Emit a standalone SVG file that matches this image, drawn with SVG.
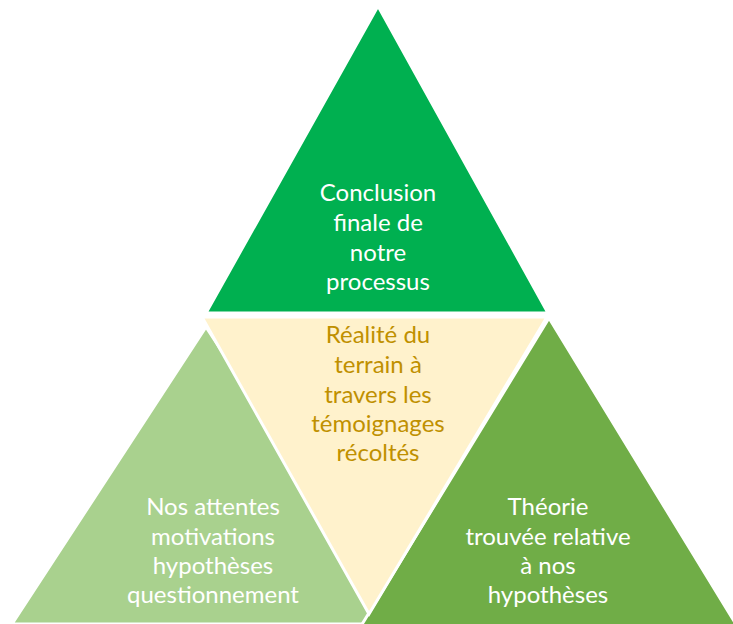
<svg xmlns="http://www.w3.org/2000/svg" width="733" height="624" viewBox="0 0 733 624">
<style>
.tri{stroke:#FFFFFF;stroke-width:3;stroke-linejoin:miter}
.t{font-family:Lato,"Liberation Sans",sans-serif;font-size:24px;text-anchor:middle}
.w{fill:#FFFFFF}
.g{fill:#BF9000}
</style>
<rect width="733" height="624" fill="#FFFFFF"/>
<g id="left">
<polygon class="tri" points="206,327 12,624 400,624" fill="#A9D18E"/>
<text class="t w" x="213" y="515">Nos attentes</text>
<text class="t w" x="213" y="545">motivations</text>
<text class="t w" x="213" y="574">hypothèses</text>
<text class="t w" x="213" y="603">questionnement</text>
</g>
<g id="right">
<polygon class="tri" points="549,318 361,626 737,626" fill="#70AD47"/>
<text class="t w" x="548" y="515">Théorie</text>
<text class="t w" x="548" y="545">trouvée relative</text>
<text class="t w" x="548" y="574">à nos</text>
<text class="t w" x="548" y="603">hypothèses</text>
</g>
<g id="middle">
<polygon class="tri" points="202,317 547,317 369,614" fill="#FFF2CC"/>
<text class="t g" x="378" y="343">Réalité du</text>
<text class="t g" x="378" y="373">terrain à</text>
<text class="t g" x="378" y="403">travers les</text>
<text class="t g" x="378" y="432">témoignages</text>
<text class="t g" x="378" y="461">récoltés</text>
</g>
<g id="top">
<polygon class="tri" points="378,6 206,313 548,313" fill="#00B050"/>
<text class="t w" x="378" y="201">Conclusion</text>
<text class="t w" x="378" y="231">finale de</text>
<text class="t w" x="378" y="261">notre</text>
<text class="t w" x="378" y="290">processus</text>
</g>
<g id="connectors"></g>
</svg>
